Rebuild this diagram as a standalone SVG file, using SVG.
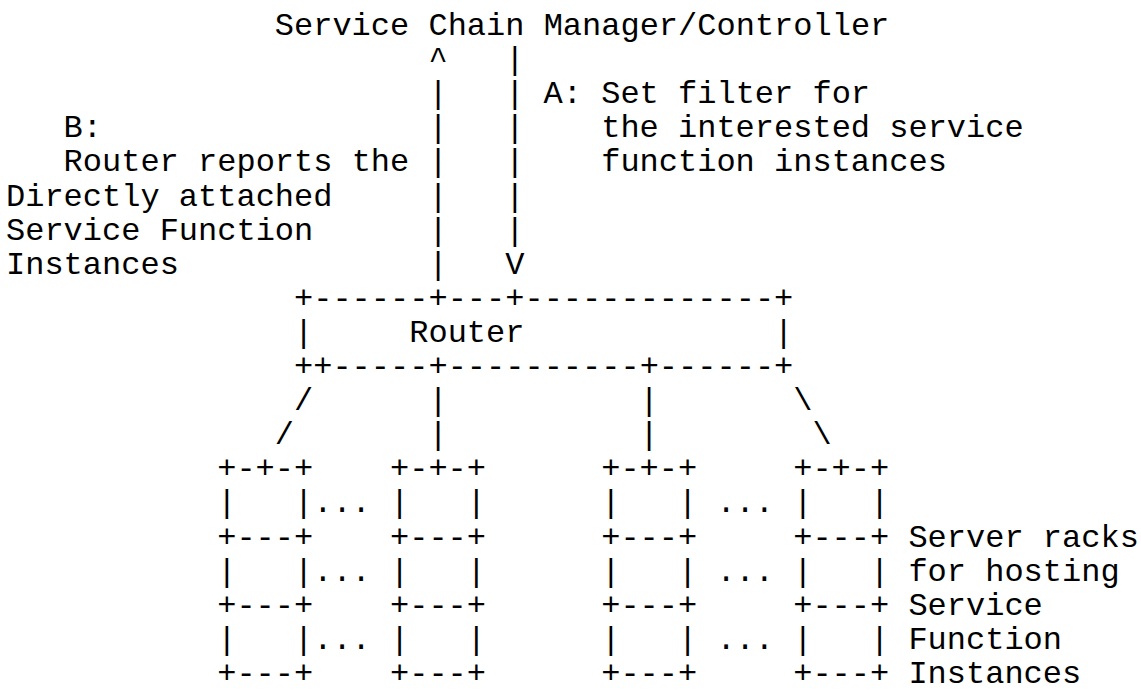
<svg xmlns="http://www.w3.org/2000/svg" width="1141" height="693" viewBox="0 0 1141 693">
<style>
text{font-family:"Liberation Mono","DejaVu Sans Mono",monospace;font-size:32px;fill:#000;white-space:pre}
</style>
<rect width="1141" height="693" fill="#fff"/>
<g id="manager">
<text x="274.8" y="35">Service Chain Manager/Controller</text>
</g>
<g id="label-a">
<text x="543.6" y="103.2">A: Set filter for</text>
<text x="601.2" y="137.3">the interested service</text>
<text x="601.2" y="171.4">function instances</text>
</g>
<g id="label-b">
<text x="63.6" y="137.3">B:</text>
<text x="63.6" y="171.4">Router reports the</text>
<text x="6" y="205.5">Directly attached</text>
<text x="6" y="239.6">Service Function</text>
<text x="6" y="273.7">Instances</text>
</g>
<g id="router">
<text x="294" y="307.8" xml:space="preserve">+------+---+-------------+</text>
<text x="294" y="341.9" xml:space="preserve">|     Router             |</text>
<text x="294" y="376" xml:space="preserve">++-----+----------+------+</text>
</g>
<g id="rack1">
<text x="217.2" y="478.3">+-+-+</text>
<text x="217.2" y="512.4" xml:space="preserve">|   |</text>
<text x="217.2" y="546.5">+---+</text>
<text x="217.2" y="580.6" xml:space="preserve">|   |</text>
<text x="217.2" y="614.7">+---+</text>
<text x="217.2" y="648.8" xml:space="preserve">|   |</text>
<text x="217.2" y="682.9">+---+</text>
</g>
<g id="rack2">
<text x="390" y="478.3">+-+-+</text>
<text x="390" y="512.4" xml:space="preserve">|   |</text>
<text x="390" y="546.5">+---+</text>
<text x="390" y="580.6" xml:space="preserve">|   |</text>
<text x="390" y="614.7">+---+</text>
<text x="390" y="648.8" xml:space="preserve">|   |</text>
<text x="390" y="682.9">+---+</text>
</g>
<g id="rack3">
<text x="601.2" y="478.3">+-+-+</text>
<text x="601.2" y="512.4" xml:space="preserve">|   |</text>
<text x="601.2" y="546.5">+---+</text>
<text x="601.2" y="580.6" xml:space="preserve">|   |</text>
<text x="601.2" y="614.7">+---+</text>
<text x="601.2" y="648.8" xml:space="preserve">|   |</text>
<text x="601.2" y="682.9">+---+</text>
</g>
<g id="rack4">
<text x="793.2" y="478.3">+-+-+</text>
<text x="793.2" y="512.4" xml:space="preserve">|   |</text>
<text x="793.2" y="546.5">+---+</text>
<text x="793.2" y="580.6" xml:space="preserve">|   |</text>
<text x="793.2" y="614.7">+---+</text>
<text x="793.2" y="648.8" xml:space="preserve">|   |</text>
<text x="793.2" y="682.9">+---+</text>
</g>
<g id="rack-ellipses">
<text x="313.2" y="512.4">...</text>
<text x="313.2" y="580.6">...</text>
<text x="313.2" y="648.8">...</text>
<text x="716.4" y="512.4">...</text>
<text x="716.4" y="580.6">...</text>
<text x="716.4" y="648.8">...</text>
</g>
<g id="label-racks">
<text x="908.4" y="546.5">Server racks</text>
<text x="908.4" y="580.6">for hosting</text>
<text x="908.4" y="614.7">Service</text>
<text x="908.4" y="648.8">Function</text>
<text x="908.4" y="682.9">Instances</text>
</g>
<g id="connectors">
<text x="428.4" y="69.1">^</text>
<text x="428.4" y="103.2">|</text>
<text x="428.4" y="137.3">|</text>
<text x="428.4" y="171.4">|</text>
<text x="428.4" y="205.5">|</text>
<text x="428.4" y="239.6">|</text>
<text x="428.4" y="273.7">|</text>
<text x="505.2" y="69.1">|</text>
<text x="505.2" y="103.2">|</text>
<text x="505.2" y="137.3">|</text>
<text x="505.2" y="171.4">|</text>
<text x="505.2" y="205.5">|</text>
<text x="505.2" y="239.6">|</text>
<text x="505.2" y="273.7">V</text>
<text x="294" y="410.1">/</text>
<text x="274.8" y="444.2">/</text>
<text x="428.4" y="410.1">|</text>
<text x="428.4" y="444.2">|</text>
<text x="639.6" y="410.1">|</text>
<text x="639.6" y="444.2">|</text>
<text x="793.2" y="410.1">\</text>
<text x="812.4" y="444.2">\</text>
</g>
</svg>
